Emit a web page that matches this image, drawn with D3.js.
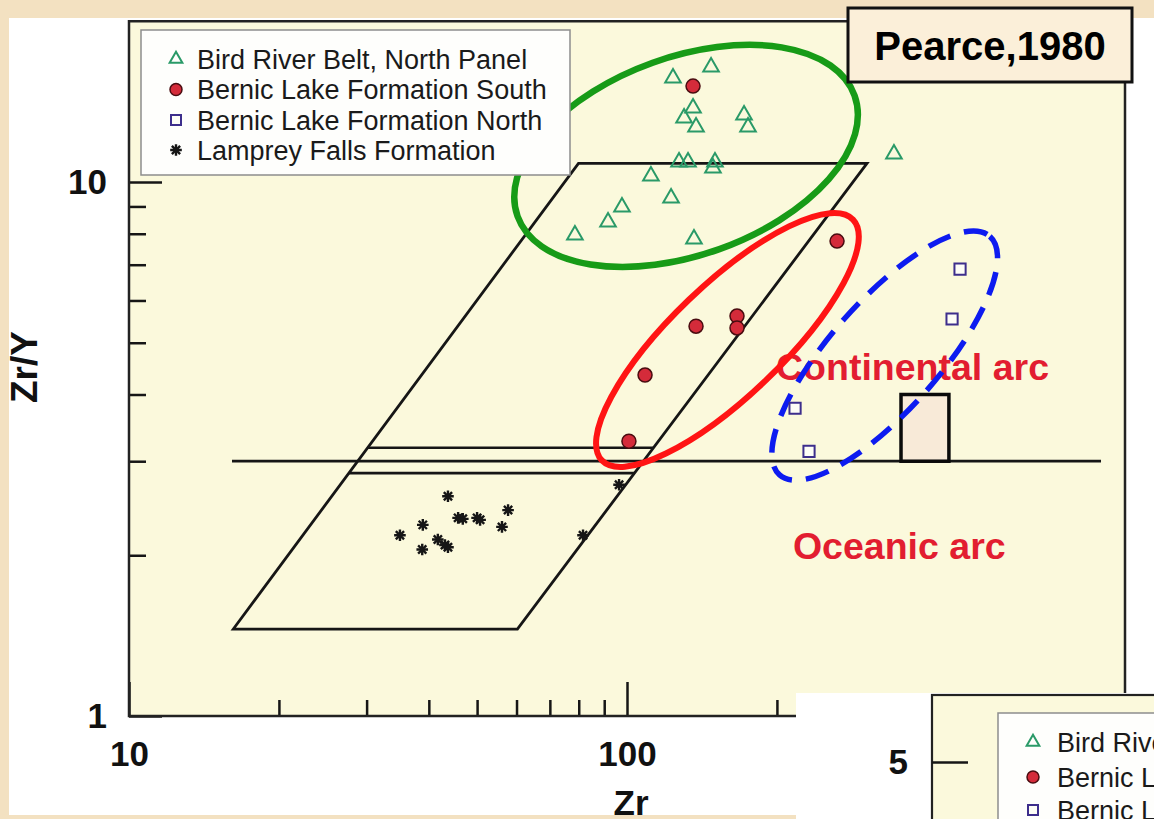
<!DOCTYPE html>
<html><head><meta charset="utf-8">
<script src="https://cdn.jsdelivr.net/npm/d3@7"></script>
<style>
html,body{margin:0;padding:0;background:#f3e1c1;overflow:hidden;}
svg{display:block;}
text{font-family:"Liberation Sans",Arial,Helvetica,sans-serif;}
</style></head><body>
<svg id="chart" width="1154" height="819"></svg>
<script>
// ---------------- data ----------------
const seriesNames = ["Bird River Belt, North Panel","Bernic Lake Formation South","Bernic Lake Formation North","Lamprey Falls Formation"];

const birdRiverZr  = [123.7,147.5,135.7,130.2,137.6,171.8,175.0,127.2,132.6,150.2,148.8,343.6,111.7,122.6,97.7,91.6,78.6,136.3];
const birdRiverZrY = [15.66,16.42,13.76,13.18,12.68,13.35,12.68,10.90,10.90,10.90,10.62,11.28,10.26,9.33,8.98,8.42,7.96,7.82];

const bernicSouthZr  = [135.7,264.1,137.6,166.3,166.3,108.7,100.9];
const bernicSouthZrY = [15.12,7.75,5.37,5.61,5.33,4.35,3.27];

const bernicNorthZr  = [466.4,449.5,217.5,232.0];
const bernicNorthZrY = [6.87,5.54,3.77,3.13];

const lampreyZr  = [43.7,45.8,46.8,50.0,50.7,57.7,56.1,38.9,35.0,41.7,43.1,43.7,38.8,96.4,81.6];
const lampreyZrY = [2.58,2.35,2.34,2.35,2.33,2.43,2.26,2.28,2.18,2.14,2.09,2.07,2.05,2.71,2.18];

// field boundaries (Zr, Zr/Y)
const fieldParallelogram = [[16.2,1.455],[60.25,1.455],[303.3,10.84],[79.9,10.84]];
const arcBoundaryLine = [[16.1,3.0],[895,3.0]];
const innerLineZrY = [3.18,2.85];
const boxZr = [355,443];
const boxZrY = [3.0,4.0];

const xTickMajor = [10,100];
const xTickMinor = [20,30,40,50,60,70,80,90,200,300,400,500,600,700,800,900];
const yTickMajor = [1,10];
const yTickMinor = [2,3,4,5,6,7,8,9];

const fieldLabels = ["Continental arc","Oceanic arc"];
const fieldLabelZr = [199.2,215.4];
const fieldLabelZrY = [4.26,1.97];

// group ellipse centres (Zr, Zr/Y)
const ellipseCenterZr = [131.4,159.1,329.2];
const ellipseCenterZrY = [11.19,5.06,4.73];

// ---------------- drawing ----------------
const svg = d3.select('#chart');
const x = d3.scaleLog().domain([10,1000]).range([129,1125]);
const yDec = 534;
const y = d3.scaleLog().domain([1,20]).range([716, 716 - yDec*Math.log10(20)]);

const BG_PLOT = '#fbf9dc';
const INK = '#161616';

// white panel
svg.append('rect').attr('x',9).attr('y',18).attr('width',1145).attr('height',797).attr('fill','#ffffff');
// plot area
svg.append('rect').attr('x',x(10)).attr('y',y(20)).attr('width',x(1000)-x(10)).attr('height',y(1)-y(20)).attr('fill',BG_PLOT);

const g = svg.append('g');

// field lines
const line = d3.line().x(d=>x(d[0])).y(d=>y(d[1]));
g.append('path').attr('d', line(fieldParallelogram)+'Z').attr('fill','none').attr('stroke',INK).attr('stroke-width',2.8).attr('stroke-linejoin','miter');
g.append('path').attr('d', line(arcBoundaryLine)).attr('fill','none').attr('stroke',INK).attr('stroke-width',2.8);

// inner lines span between left and right edges of the parallelogram
function edgeX(p0,p1,v){ // interpolate in log space
  const t = (Math.log10(v)-Math.log10(p0[1]))/(Math.log10(p1[1])-Math.log10(p0[1]));
  return Math.pow(10, Math.log10(p0[0]) + t*(Math.log10(p1[0])-Math.log10(p0[0])));
}
innerLineZrY.forEach(v=>{
  const zl = edgeX(fieldParallelogram[0],fieldParallelogram[3],v);
  const zr = edgeX(fieldParallelogram[1],fieldParallelogram[2],v);
  g.append('path').attr('d', line([[zl,v],[zr,v]])).attr('fill','none').attr('stroke',INK).attr('stroke-width',2.6);
});

// box
g.append('rect').attr('x',x(boxZr[0])).attr('y',y(boxZrY[1])).attr('width',x(boxZr[1])-x(boxZr[0])).attr('height',y(boxZrY[0])-y(boxZrY[1]))
  .attr('fill','#f8ead8').attr('stroke','#0a0a0a').attr('stroke-width',3.5);

// field labels
fieldLabels.forEach((t,i)=>{
  g.append('text').attr('x',x(fieldLabelZr[i])).attr('y',y(fieldLabelZrY[i])).text(t)
    .attr('font-size','37.5px').attr('font-weight','bold').attr('fill','#e21d30');
});

// ellipses
const ellStyles = [
  {rx:179, ry:99, rot:-19.7, stroke:'#179b17', w:6.5, dash:null},
  {rx:174, ry:55.7, rot:-43.8, stroke:'#ff1414', w:6, dash:null},
  {rx:159, ry:54.6, rot:-48.6, stroke:'#0d1bf0', w:5.5, dash:'24 14'}
];
ellStyles.forEach((s,i)=>{
  const cx = x(ellipseCenterZr[i]), cy = y(ellipseCenterZrY[i]);
  const e = g.append('ellipse').attr('cx',0).attr('cy',0).attr('rx',s.rx).attr('ry',s.ry)
    .attr('transform',`translate(${cx},${cy}) rotate(${s.rot})`)
    .attr('fill','none').attr('stroke',s.stroke).attr('stroke-width',s.w);
  if(s.dash) e.attr('stroke-dasharray',s.dash);
});

// markers
const triPath = d3.symbol(d3.symbolTriangle, 105)();
const sqPath = d3.symbol(d3.symbolSquare, 125)();
const plusPath = d3.symbol(d3.symbolPlus, 46)();
const timesPath = d3.symbol(d3.symbolTimes, 46)();
const TRI = '#2a9a68', CIRC_F = '#d42b3a', CIRC_S = '#4a0c10', SQ = '#3d2e8c';

function drawTri(sel, px, py, size){
  sel.append('path').attr('d', size? d3.symbol(d3.symbolTriangle,size)() : triPath).attr('transform',`translate(${px},${py})`)
    .attr('fill','none').attr('stroke',TRI).attr('stroke-width',2);
}
function drawCirc(sel, px, py, r){
  sel.append('circle').attr('cx',px).attr('cy',py).attr('r',r||7).attr('fill',CIRC_F).attr('stroke',CIRC_S).attr('stroke-width',1.5);
}
function drawSq(sel, px, py, size){
  sel.append('path').attr('d', size? d3.symbol(d3.symbolSquare,size)() : sqPath).attr('transform',`translate(${px},${py})`)
    .attr('fill','#fdfdf6').attr('stroke',SQ).attr('stroke-width',2);
}
function drawAst(sel, px, py){
  const a = sel.append('g').attr('transform',`translate(${px},${py})`).attr('stroke',INK).attr('stroke-width',2.4).attr('fill','none');
  a.append('path').attr('d',plusPath);
  a.append('path').attr('d',timesPath);
}

const pts = g.append('g');
lampreyZr.forEach((z,i)=>drawAst(pts, x(z), y(lampreyZrY[i])));
birdRiverZr.forEach((z,i)=>drawTri(pts, x(z), y(birdRiverZrY[i])));
bernicNorthZr.forEach((z,i)=>drawSq(pts, x(z), y(bernicNorthZrY[i])));
bernicSouthZr.forEach((z,i)=>drawCirc(pts, x(z), y(bernicSouthZrY[i])));

// axes (ticks inward)
function styleAxis(sel){
  sel.select('.domain').remove();
  sel.selectAll('.tick line').attr('stroke',INK).attr('stroke-width',2.5);
  sel.selectAll('.tick text').attr('font-size','35px').attr('font-weight','bold').attr('fill','#111')
    .attr('font-family','"Liberation Sans",Arial,sans-serif');
}
svg.append('g').attr('transform',`translate(0,${y(1)})`)
  .call(d3.axisBottom(x).tickValues(xTickMinor).tickSize(-16).tickFormat('')).call(styleAxis);
svg.append('g').attr('transform',`translate(0,${y(1)})`)
  .call(d3.axisBottom(x).tickValues(xTickMajor).tickSize(-34).tickPadding(25).tickFormat(d3.format('d'))).call(styleAxis);
svg.append('g').attr('transform',`translate(${x(10)},0)`)
  .call(d3.axisLeft(y).tickValues(yTickMinor).tickSize(-17).tickFormat('')).call(styleAxis);
svg.append('g').attr('transform',`translate(${x(10)},0)`)
  .call(d3.axisLeft(y).tickValues(yTickMajor).tickSize(-33).tickPadding(22).tickFormat(d3.format('d'))).call(styleAxis);

// frame
svg.append('rect').attr('x',x(10)).attr('y',y(20)).attr('width',x(1000)-x(10)).attr('height',y(1)-y(20))
  .attr('fill','none').attr('stroke','#222').attr('stroke-width',2.5);

// axis titles
svg.append('text').attr('transform','translate(37,367) rotate(-90)').attr('text-anchor','middle')
  .attr('font-size','37px').attr('font-weight','bold').attr('fill','#111').text('Zr/Y');
svg.append('text').attr('x',631).attr('y',815).attr('text-anchor','middle')
  .attr('font-size','35px').attr('font-weight','bold').attr('fill','#111').text('Zr');

// legend
const lg = svg.append('g');
lg.append('rect').attr('x',141).attr('y',30).attr('width',429).attr('height',145).attr('fill','#fefefc').attr('stroke','#8d8d8d').attr('stroke-width',1.5);
const legY = [59,89.5,120,150];
const legDraw = [
  (px,py)=>drawTri(lg,px,py,70),
  (px,py)=>drawCirc(lg,px,py,6),
  (px,py)=>drawSq(lg,px,py,100),
  (px,py)=>drawAst(lg,px,py)
];
seriesNames.forEach((n,i)=>{
  legDraw[i](176, legY[i]);
  lg.append('text').attr('x',197).attr('y',legY[i]+9.5).attr('font-size','27px').attr('fill','#1a1a1a').text(n);
});

// Pearce box
svg.append('rect').attr('x',848).attr('y',8).attr('width',284).attr('height',74).attr('fill','#fbefd9').attr('stroke','#111').attr('stroke-width',3);
svg.append('text').attr('x',990).attr('y',60).attr('text-anchor','middle').attr('font-size','40px').attr('font-weight','bold').attr('fill','#000').text('Pearce,1980');

// bottom beige strip
svg.append('rect').attr('x',0).attr('y',815).attr('width',796).attr('height',4).attr('fill','#f3e1c1');

// inset (second diagram, partially visible)
const inset = svg.append('g');
inset.append('rect').attr('x',796).attr('y',693).attr('width',358).attr('height',126).attr('fill','#ffffff');
inset.append('rect').attr('x',932).attr('y',695).attr('width',260).attr('height',160).attr('fill',BG_PLOT).attr('stroke','#222').attr('stroke-width',2.2);
const insetY = d3.scaleLinear().domain([4,6]).range([862,662]);
inset.append('g').attr('transform','translate(932,0)')
  .call(d3.axisLeft(insetY).tickValues([5]).tickSize(-36).tickPadding(24).tickFormat(d3.format('d'))).call(styleAxis);
inset.append('rect').attr('x',998).attr('y',713).attr('width',200).attr('height',130).attr('fill','#fefefc').attr('stroke','#8d8d8d').attr('stroke-width',1.5);
const insetLegY = [742,777,810];
seriesNames.slice(0,3).forEach((n,i)=>{
  if(i===0) drawTri(inset,1033,insetLegY[i],70);
  if(i===1) drawCirc(inset,1033,insetLegY[i],6);
  if(i===2) drawSq(inset,1033,insetLegY[i],100);
  inset.append('text').attr('x',1057).attr('y',insetLegY[i]+10).attr('font-size','27px').attr('fill','#1a1a1a').text(n);
});
</script>
</body></html>
